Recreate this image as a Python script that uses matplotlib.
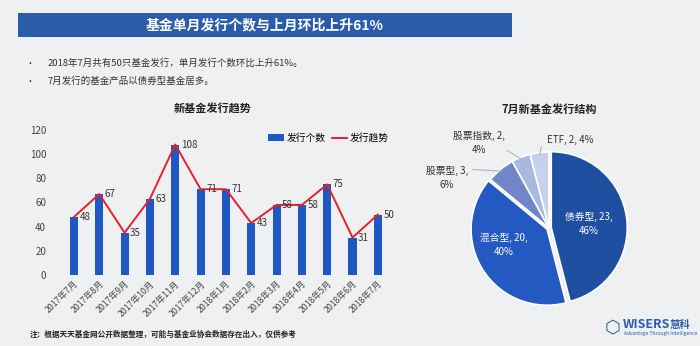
import numpy as np
import matplotlib
matplotlib.use("Agg")
import matplotlib.pyplot as plt
from matplotlib.patches import Rectangle

plt.rcParams['font.family'] = ['Noto Sans CJK SC', 'DejaVu Sans']

# data
months = ["2017年7月", "2017年8月", "2017年9月", "2017年10月", "2017年11月", "2017年12月",
          "2018年1月", "2018年2月", "2018年3月", "2018年4月", "2018年5月", "2018年6月", "2018年7月"]
counts = [48, 67, 35, 63, 108, 71, 71, 43, 58, 58, 75, 31, 50]

pie_names = ["债券型", "混合型", "股票型", "股票指数", "ETF"]
pie_values = [23, 20, 3, 2, 2]
pie_pcts = [46, 40, 6, 4, 4]

bullets = ["2018年7月共有50只基金发行，单月发行个数环比上升61%。",
           "7月发行的基金产品以债券型基金居多。"]

W, H = 700, 346
BG = "#EEF0F2"
fig = plt.figure(figsize=(W / 100, H / 100), dpi=100, facecolor=BG)


def fx(px):
    return px / W


def fy(py):
    return 1 - py / H


# title banner
fig.patches.append(Rectangle((fx(18), fy(37)), fx(494), 24 / H, transform=fig.transFigure,
                             facecolor="#2B5CAB", edgecolor="none"))
fig.text(fx(265), fy(25), "基金单月发行个数与上月环比上升61%", color="white", fontsize=10,
         fontweight="bold", ha="center", va="center")

for i, b in enumerate(bullets):
    y = 63 + i * 18
    fig.text(fx(30), fy(y), "•", fontsize=6.5, color="#333333", ha="center", va="center")
    fig.text(fx(48), fy(y), b, fontsize=6.8, color="#333333", ha="left", va="center")

# bar + line chart
ax = fig.add_axes([fx(60), fy(275), fx(328), 145 / H])
ax.set_facecolor("none")
x = np.arange(len(months))
bars = ax.bar(x, counts, width=0.32, color="#1F57C3", label="发行个数", zorder=2)
line, = ax.plot(x, counts, color="#E8202A", lw=1.4, label="发行趋势", zorder=3)
for xi, v in zip(x, counts):
    ax.annotate(str(v), (xi, v), xytext=(4, 0), textcoords="offset points",
                fontsize=7, color="#333333", va="center", ha="left", zorder=4)
ax.set_ylim(0, 120)
ax.set_xlim(-0.55, 12.4)
ax.set_yticks(range(0, 121, 20))
ax.set_xticks(x)
ax.set_xticklabels(months, rotation=45, ha="right", rotation_mode="anchor", fontsize=6.3, color="#444444")
ax.tick_params(axis="y", labelsize=7, colors="#444444", length=0, pad=10)
ax.tick_params(axis="x", length=0, pad=3)
for s in ax.spines.values():
    s.set_visible(False)
ax.legend([bars, line], ["发行个数", "发行趋势"], loc="upper right", ncol=2, frameon=False, fontsize=7,
          handlelength=1.6, handletextpad=0.3, columnspacing=0.6, bbox_to_anchor=(1.03, 1.04))
fig.text(fx(213), fy(108), "新基金发行趋势", fontsize=8, fontweight="bold", ha="center", va="center",
         color="#222222")

# pie chart
cx, cy, R = 549, 228, 76
pax = fig.add_axes([fx(cx - 90), fy(cy + 90), fx(180), 180 / H])
pax.set_facecolor("none")
colors = ["#1E4FA0", "#2459C2", "#6F86C9", "#A9B8E0", "#C7D1EE"]
wedges, _ = pax.pie(pie_values, colors=colors, startangle=90, counterclock=False,
                    explode=[0.03, 0.03, 0.0, 0.0, 0.0],
                    wedgeprops=dict(edgecolor="white", linewidth=1.2))
lim = 90 / R
pax.set_xlim(-lim, lim)
pax.set_ylim(-lim, lim)
pax.set_aspect("auto")
pax.axis("off")

inner = {0: (0.52, 0.05), 1: (-0.60, -0.22)}
outer = {2: ((-1.34, 0.66), (-1.0, 0.77)), 3: ((-0.92, 1.12), (-0.55, 1.02)), 4: ((0.28, 1.16), (-0.1, 1.07))}
for i, (n, v, p) in enumerate(zip(pie_names, pie_values, pie_pcts)):
    if i in inner:
        tx, ty = inner[i]
        pax.text(tx, ty, f"{n}, {v},\n{p}%", color="white", fontsize=7, ha="center", va="center",
                 linespacing=1.5)
    else:
        (tx, ty), (lx, ly) = outer[i]
        ang = np.deg2rad((wedges[i].theta1 + wedges[i].theta2) / 2)
        ex, ey = 0.97 * np.cos(ang), 0.97 * np.sin(ang)
        pax.plot([ex, lx], [ey, ly], color="#A8ADB6", lw=0.7, clip_on=False)
        txt = f"{n}, {v}, {p}%" if i == 4 else f"{n}, {v},\n{p}%"
        pax.text(tx, ty, txt, color="#333333", fontsize=7, ha="center", va="center", linespacing=1.5)
fig.text(fx(549), fy(109), "7月新基金发行结构", fontsize=8, fontweight="bold", ha="center", va="center",
         color="#222222")

# footnote and logo
fig.text(fx(30), fy(334), "注：根据天天基金网公开数据整理，可能与基金业协会数据存在出入，仅供参考",
         fontsize=5.5, fontweight="bold", ha="left", va="center", color="#222222")
fig.text(fx(612), fy(328), "\u2b21", family="DejaVu Sans", fontsize=13, color="#2B5CAB",
         ha="center", va="center")
fig.text(fx(623), fy(325), "WISERS", fontsize=9, fontweight="bold", color="#2B5CAB", ha="left", va="center")
fig.text(fx(669), fy(325), "慧科", fontsize=7.5, fontweight="bold", color="#2B5CAB", ha="left", va="center")
fig.text(fx(624), fy(334), "Advantage Through Intelligence", fontsize=3.5, color="#2B5CAB",
         ha="left", va="center")

fig.savefig("out.png", dpi=100, facecolor=BG)
